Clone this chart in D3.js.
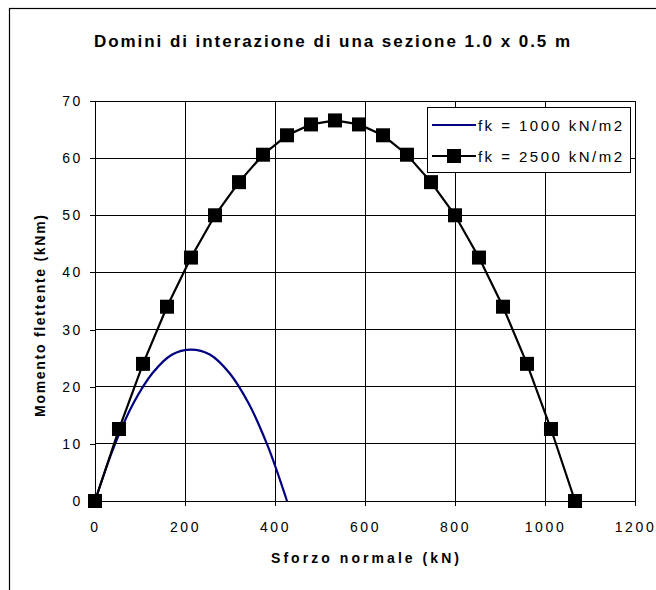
<!DOCTYPE html>
<html><head><meta charset="utf-8">
<script src="https://cdn.jsdelivr.net/npm/d3@7"></script>
<style>
html,body{margin:0;padding:0;background:#fff;}
text{font-family:"Liberation Sans",Arial,sans-serif;fill:#000;}
</style></head>
<body>
<svg id="c" width="656" height="590"></svg>
<script>
const chartTitle = "Domini di interazione di una sezione 1.0 x 0.5 m";
const xTitle = "Sforzo normale (kN)";
const yTitle = "Momento flettente (kNm)";
const seriesNames = ["fk = 1000 kN/m2", "fk = 2500 kN/m2"];
const xTicks = [0, 200, 400, 600, 800, 1000, 1200];
const yTicks = [0, 10, 20, 30, 40, 50, 60, 70];
// fk = 1000 kN/m2 (smooth line, no markers)
const nBlue = [0, 42.7, 85.3, 128, 170.7, 213.3, 256, 298.7, 341.3, 384, 426.7];
const mBlue = [0, 9.6, 17.1, 22.4, 25.6, 26.5, 25.6, 22.4, 17.1, 9.6, 0];
// fk = 2500 kN/m2 (line with square markers)
const nBlack = [0, 53.3, 106.7, 160, 213.3, 266.7, 320, 373.3, 426.7, 480, 533.3, 586.7, 640, 693.3, 746.7, 800, 853.3, 906.7, 960, 1013.3, 1066.7];
const mBlack = [0, 12.6, 24.0, 34.0, 42.6, 50.0, 55.8, 60.6, 64.0, 65.9, 66.6, 65.9, 64.0, 60.6, 55.8, 50.0, 42.6, 34.0, 24.0, 12.6, 0];

const svg = d3.select("#c");
svg.append("rect").attr("x",0).attr("y",0).attr("width",656).attr("height",590).attr("fill","#fff");
// outer chart border (right/bottom off-canvas)
svg.append("rect").attr("x",9.5).attr("y",8.5).attr("width",700).attr("height",700)
  .attr("fill","none").attr("stroke","#000").attr("stroke-width",1.2);

const L=95, R=635, T=101, B=501;
const x = d3.scaleLinear().domain([0,1200]).range([L,R]);
const y = d3.scaleLinear().domain([0,70]).range([B,T]);

// gridlines
const g = svg.append("g").attr("shape-rendering","crispEdges");
g.selectAll("line.v").data(xTicks).enter().append("line")
  .attr("x1",d=>x(d)).attr("x2",d=>x(d)).attr("y1",T).attr("y2",B).attr("stroke","#000").attr("stroke-width",1);
g.selectAll("line.h").data(yTicks).enter().append("line")
  .attr("x1",L).attr("x2",R).attr("y1",d=>y(d)).attr("y2",d=>y(d)).attr("stroke","#000").attr("stroke-width",1);
g.append("rect").attr("x",L).attr("y",T).attr("width",R-L).attr("height",B-T)
  .attr("fill","none").attr("stroke","#000").attr("stroke-width",1);

// axes
const ax = svg.append("g").attr("transform",`translate(0,${B})`)
  .call(d3.axisBottom(x).tickValues(xTicks).tickSize(5).tickPadding(16).tickFormat(d3.format("d")));
const ay = svg.append("g").attr("transform",`translate(${L},0)`)
  .call(d3.axisLeft(y).tickValues(yTicks).tickSize(5).tickPadding(7).tickFormat(d3.format("d")));
[ax,ay].forEach(a=>{
  a.select(".domain").attr("stroke","#000").attr("shape-rendering","crispEdges");
  a.selectAll(".tick line").attr("stroke","#000").attr("shape-rendering","crispEdges");
  a.selectAll(".tick text").attr("font-size",14).attr("font-family","'Liberation Sans',Arial,sans-serif")
    .style("letter-spacing","2.6px");
});

// series
const blueData = nBlue.map((n,i)=>[n,mBlue[i]]);
const blackData = nBlack.map((n,i)=>[n,mBlack[i]]);
svg.append("path").datum(blueData)
  .attr("d", d3.line().x(d=>x(d[0])).y(d=>y(d[1])).curve(d3.curveCatmullRom.alpha(0.5)))
  .attr("fill","none").attr("stroke","#000080").attr("stroke-width",2.2);
svg.append("path").datum(blackData)
  .attr("d", d3.line().x(d=>x(d[0])).y(d=>y(d[1])))
  .attr("fill","none").attr("stroke","#000").attr("stroke-width",2.2);
const ms = 14;
svg.selectAll("rect.mk").data(blackData).enter().append("rect")
  .attr("x",d=>x(d[0])-ms/2).attr("y",d=>y(d[1])-ms/2).attr("width",ms).attr("height",ms).attr("fill","#000");

// titles
svg.append("text").attr("x",332).attr("y",47).attr("text-anchor","middle")
  .attr("font-size",17).attr("font-weight","bold")
  .attr("textLength",476).attr("lengthAdjust","spacing").text(chartTitle);
svg.append("text").attr("x",365).attr("y",563).attr("text-anchor","middle")
  .attr("font-size",14).attr("font-weight","bold")
  .attr("textLength",188).attr("lengthAdjust","spacing").text(xTitle);
svg.append("text").attr("transform","translate(45,316) rotate(-90)").attr("text-anchor","middle")
  .attr("font-size",14).attr("font-weight","bold")
  .attr("textLength",202).attr("lengthAdjust","spacing").text(yTitle);

// legend
const lg = svg.append("g");
lg.append("rect").attr("x",427.5).attr("y",107.5).attr("width",203).attr("height",65)
  .attr("fill","#fff").attr("stroke","#000").attr("stroke-width",1).attr("shape-rendering","crispEdges");
const rows = [125, 156];
lg.append("line").attr("x1",432).attr("x2",476).attr("y1",rows[0]).attr("y2",rows[0]).attr("stroke","#000080").attr("stroke-width",2.2);
lg.append("line").attr("x1",432).attr("x2",476).attr("y1",rows[1]).attr("y2",rows[1]).attr("stroke","#000").attr("stroke-width",2.2);
lg.append("rect").attr("x",454-ms/2).attr("y",rows[1]-ms/2).attr("width",ms).attr("height",ms).attr("fill","#000");
seriesNames.forEach((s,i)=>{
  lg.append("text").attr("x",478).attr("y",rows[i]+5.5).attr("font-size",15)
    .attr("textLength",144).attr("lengthAdjust","spacing").text(s);
});
</script>
</body></html>
